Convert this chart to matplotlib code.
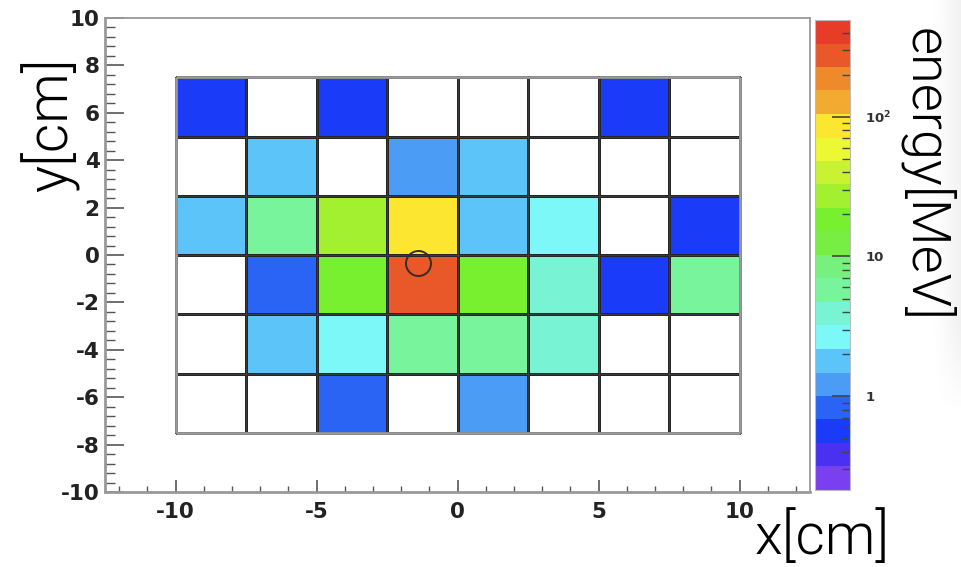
import numpy as np
import matplotlib
matplotlib.use("Agg")
import matplotlib.pyplot as plt
from matplotlib.colors import ListedColormap, LogNorm
from matplotlib.ticker import MultipleLocator, LogLocator, FixedLocator, NullFormatter

plt.rcParams['axes.unicode_minus'] = False

# ---------------- data ----------------
x_edges = [-10.0, -7.5, -5.0, -2.5, 0.0, 2.5, 5.0, 7.5, 10.0]
y_edges = [-7.5, -5.0, -2.5, 0.0, 2.5, 5.0, 7.5]

# energy deposit per cell [MeV]; rows listed from top (y 5..7.5) to bottom (y -7.5..-5); 0 = empty
row_5_to_7p5 = [0.56, 0, 0.56, 0, 0, 0, 0.56, 0]
row_2p5_to_5 = [0, 1.8, 0, 1.2, 1.8, 0, 0, 0]
row_0_to_2p5 = [1.8, 5.7, 27, 86, 1.8, 2.6, 0, 0.56]
row_m2p5_to_0 = [0, 0.83, 18, 270, 18, 3.9, 0.56, 5.7]
row_m5_to_m2p5 = [0, 1.8, 2.6, 5.7, 5.7, 3.9, 0, 0]
row_m7p5_to_m5 = [0, 0, 0.83, 0, 1.2, 0, 0, 0]

hit_x = [-1.4]
hit_y = [-0.35]

z_min, z_max = 0.213, 493.0
cbar_ticks = [1, 10, 100]
cbar_ticklabels = ["1", "10", r"$\mathbf{10^{2}}$"]

palette = ['#7a40f0', '#4a30f0', '#1a3cf8', '#2a64f4', '#4a9cf4', '#5cc4f8', '#7cf8f8',
           '#78f4d4', '#78f49c', '#78f080', '#78ee44', '#78f030', '#a2f030', '#c8f232',
           '#ecf832', '#fce630', '#f2aa30', '#ec8a2c', '#e85828', '#e63c28']

# ---------------- figure ----------------
W, H = 961, 567
fig = plt.figure(figsize=(W / 100, H / 100), dpi=100)
fig.patch.set_facecolor('white')

# right-edge shading
shade_ax = fig.add_axes([932 / W, 0, (W - 932) / W, 1])
shade_ax.set_axis_off()
gx = np.linspace(0, 1, 60)
gy = np.linspace(0, 1, 200)
GX, GY = np.meshgrid(gx, gy)
vert = np.clip((GY - 0.27) / 0.15, 0, 1)
alpha = (GX ** 1.2) * 0.09 * vert
rgba = np.zeros((200, 60, 4))
rgba[..., :3] = 0.4
rgba[..., 3] = alpha
shade_ax.imshow(rgba, origin='lower', aspect='auto', extent=[0, 1, 0, 1])
shade_ax.set_xlim(0, 1); shade_ax.set_ylim(0, 1)

ax = fig.add_axes([105 / W, 1 - 492 / H, 705 / W, 474 / H])
cax = fig.add_axes([815 / W, 1 - 490 / H, 35 / W, 470 / H])

energy = np.array([row_5_to_7p5, row_2p5_to_5, row_0_to_2p5,
                   row_m2p5_to_0, row_m5_to_m2p5, row_m7p5_to_m5], dtype=float)[::-1]
Z = np.ma.masked_less_equal(energy, 0)

cmap = ListedColormap(palette)
norm = LogNorm(vmin=z_min, vmax=z_max)
mesh = ax.pcolormesh(x_edges, y_edges, Z, cmap=cmap, norm=norm,
                     edgecolors='#222222', linewidth=0.9, zorder=1)

# cell grid lines
ax.vlines(x_edges[1:-1], y_edges[0], y_edges[-1], colors='#3a3a3a', linewidth=1.0, zorder=2)
ax.hlines(y_edges[1:-1], x_edges[0], x_edges[-1], colors='#3a3a3a', linewidth=1.0, zorder=2)
ax.vlines([x_edges[0], x_edges[-1]], y_edges[0], y_edges[-1], colors='#9a9a9a', linewidth=2.0, zorder=2)
ax.hlines([y_edges[0], y_edges[-1]], x_edges[0], x_edges[-1], colors='#9a9a9a', linewidth=2.0, zorder=2)

ax.plot(hit_x, hit_y, marker='o', markersize=18, markerfacecolor='none',
        markeredgecolor='#3a2a20', markeredgewidth=1.4, linestyle='none', zorder=3)

ax.set_xlim(-12.5, 12.5)
ax.set_ylim(-10, 10)

for s in ax.spines.values():
    s.set_color('#999999')
    s.set_linewidth(1.3)
ax.spines['left'].set_linewidth(2.0)
ax.spines['bottom'].set_linewidth(2.0)

ax.xaxis.set_major_locator(MultipleLocator(5))
ax.xaxis.set_minor_locator(MultipleLocator(1))
ax.yaxis.set_major_locator(MultipleLocator(2))
ax.yaxis.set_minor_locator(MultipleLocator(0.4))
ax.tick_params(axis='x', which='major', direction='in', length=9, width=1.2, color='#555555', pad=7)
ax.tick_params(axis='x', which='minor', direction='in', length=4.5, width=1.0, color='#555555')
ax.tick_params(axis='y', which='major', direction='in', length=14, width=1.2, color='#555555', pad=4)
ax.tick_params(axis='y', which='minor', direction='in', length=7, width=1.0, color='#555555')
ax.tick_params(top=False, right=False, which='both')

for lab in ax.get_xticklabels() + ax.get_yticklabels():
    lab.set_fontfamily('DejaVu Sans')
    lab.set_fontweight('bold')
    lab.set_fontsize(15.5)
    lab.set_color('#222222')

# colorbar
cb = fig.colorbar(mesh, cax=cax)
cb.outline.set_edgecolor('#bbbbbb')
cb.outline.set_linewidth(0.8)
cax.yaxis.set_ticks_position('right')
cax.yaxis.set_major_locator(FixedLocator(cbar_ticks))
cax.set_yticklabels(cbar_ticklabels)
cax.yaxis.set_minor_locator(LogLocator(base=10, subs=np.arange(2, 10)))
cax.yaxis.set_minor_formatter(NullFormatter())
cax.tick_params(which='major', direction='in', length=13, width=1.2, color='#444444', pad=11)
cax.tick_params(which='minor', direction='in', length=6, width=1.0, color='#444444')
for lab in cax.get_yticklabels():
    lab.set_fontfamily('DejaVu Sans')
    lab.set_fontweight('bold')
    lab.set_fontsize(9.5)
    lab.set_color('#333333')

# axis titles
title_font = dict(family=['Roboto', 'DejaVu Sans'], weight=300, color='black')
fig.text(50 / W, 1 - 125 / H, 'y[cm]', rotation=90, ha='center', va='center', fontsize=41, **title_font)
fig.text(822 / W, 1 - 538 / H, 'x[cm]', ha='center', va='center', fontsize=41, **title_font)
fig.text(926 / W, 1 - 175 / H, 'energy[MeV]', rotation=270, ha='center', va='center', fontsize=39, **title_font)

fig.savefig('out.png', dpi=100, facecolor='white')
